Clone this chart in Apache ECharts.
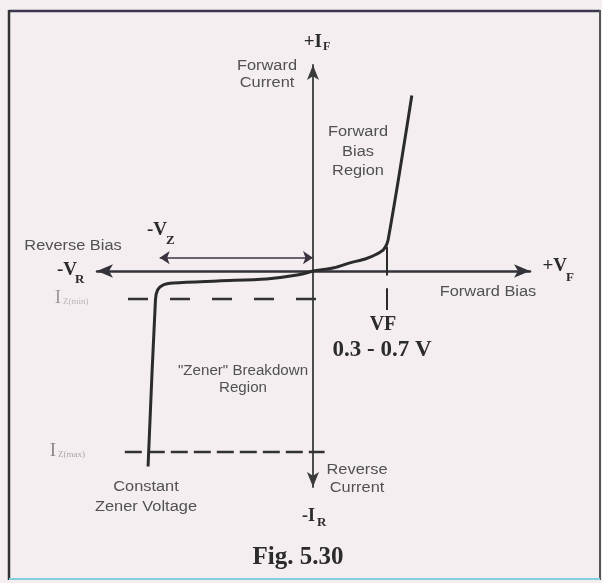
<!DOCTYPE html>
<html>
<head>
<meta charset="utf-8">
<script src="https://cdn.jsdelivr.net/npm/echarts@6/dist/echarts.min.js"></script>
<style>
  html, body { margin: 0; padding: 0; background: #f4eef1; }
  #chart { width: 602px; height: 583px; }
</style>
</head>
<body>
<div id="chart"></div>
<script>
// Zener diode I-V characteristic (voltage in V, current in mA)

// forward branch: conduction starts near the knee voltage
const forwardV = [0, 0.2, 0.35, 0.5, 0.6, 0.67, 0.71, 0.935];
const forwardI = [0, 0.35, 0.9, 1.35, 1.85, 2.4, 3.4, 19.4];

// reverse branch: small leakage, then breakdown at -Vz
const reverseV = [0, -0.15, -0.44, -0.9, -1.32, -1.42, -1.47, -1.49, -1.56];
const reverseI = [0, -0.45, -0.88, -1.1, -1.33, -1.55, -2.1, -3.2, -21.6];

// reference levels
const izMin = -3.1;          // I_Z(min)
const izMax = -20;           // I_Z(max)
const izMinSpan = [-1.75, 0.13];
const izMaxSpan = [-1.78, 0.11];
const vzSpan = [-1.45, 0];   // -Vz dimension arrow
const vzArrowLevel = 1.47;
const vf = 0.7;              // forward knee voltage
const vfKneeI = 2.65;
const vfTick = [-1.9, -4.3];

const axisRangeV = [-2.043, 2.053];
const axisRangeI = [-23.87, 22.76];

const ink = '#2b2b2b';
const sans = '"Liberation Sans", Arial, sans-serif';
const serif = '"Liberation Serif", "Times New Roman", serif';

const pairs = (xs, ys) => xs.map((x, i) => [x, ys[i]]);

const chart = echarts.init(document.getElementById('chart'), null, { renderer: 'canvas' });

function label(text, x, y, opts) {
  opts = opts || {};
  return {
    type: 'text',
    x: x, y: y,
    scaleX: opts.scaleX || 1,
    z: 10,
    style: {
      text: text,
      font: opts.font,
      fill: opts.fill || ink,
      align: opts.align || 'center',
      verticalAlign: 'middle',
      lineHeight: opts.lineHeight
    }
  };
}

const sansFont = '14px ' + sans;
const sansFill = '#515151';
const sx = 1.17;

const graphics = [
  // page frame
  { type: 'line', shape: { x1: 9, y1: 11, x2: 600, y2: 11 }, style: { stroke: '#3b3550', lineWidth: 2.5 } },
  { type: 'line', shape: { x1: 9, y1: 10, x2: 9, y2: 580 }, style: { stroke: '#333', lineWidth: 2.5 } },
  { type: 'line', shape: { x1: 600, y1: 10, x2: 600, y2: 580 }, style: { stroke: '#555', lineWidth: 2 } },
  { type: 'line', shape: { x1: 9, y1: 579, x2: 600, y2: 579 }, style: { stroke: '#7fcfdc', lineWidth: 2 } },

  // axis names
  label('+I', 322, 42, { font: 'bold 19px ' + serif, align: 'right' }),
  label('F', 323, 47, { font: 'bold 12px ' + serif, align: 'left' }),
  label('-V', 77, 270, { font: 'bold 19px ' + serif, align: 'right' }),
  label('R', 75, 280, { font: 'bold 13px ' + serif, align: 'left' }),
  label('+V', 567, 266, { font: 'bold 19px ' + serif, align: 'right' }),
  label('F', 566, 278, { font: 'bold 13px ' + serif, align: 'left' }),
  label('-I', 315, 516, { font: 'bold 18px ' + serif, align: 'right' }),
  label('R', 317, 523, { font: 'bold 13px ' + serif, align: 'left' }),
  label('-V', 167, 230, { font: 'bold 19px ' + serif, align: 'right' }),
  label('Z', 166, 241, { font: 'bold 13px ' + serif, align: 'left' }),

  // current level labels
  label('I', 58, 298, { font: '19px ' + serif, fill: '#9a9a9a', align: 'center' }),
  label('Z(min)', 63, 302, { font: '9px ' + serif, fill: '#b9b4b8', align: 'left' }),
  label('I', 53, 451, { font: '19px ' + serif, fill: '#8a8a8a', align: 'center' }),
  label('Z(max)', 58, 455, { font: '9px ' + serif, fill: '#a9a4a8', align: 'left' }),

  // region notes
  label('Forward\nCurrent', 267, 75, { font: sansFont, fill: sansFill, scaleX: sx, lineHeight: 17 }),
  label('Forward\nBias\nRegion', 358, 152, { font: sansFont, fill: sansFill, scaleX: sx, lineHeight: 19.5 }),
  label('Reverse Bias', 73, 246, { font: sansFont, fill: sansFill, scaleX: sx }),
  label('Forward Bias', 488, 292, { font: sansFont, fill: sansFill, scaleX: sx }),
  label('"Zener" Breakdown\nRegion', 243, 380, { font: sansFont, fill: sansFill, scaleX: 1.08, lineHeight: 17 }),
  label('Constant\nZener Voltage', 146, 497, { font: sansFont, fill: sansFill, scaleX: sx, lineHeight: 20 }),
  label('Reverse\nCurrent', 357, 479, { font: sansFont, fill: sansFill, scaleX: sx, lineHeight: 18 }),

  // knee voltage notes
  label('VF', 383, 325, { font: 'bold 20px ' + serif }),
  label('0.3 - 0.7 V', 382, 350, { font: 'bold 23px ' + serif }),

  // caption
  label('Fig. 5.30', 298, 558, { font: 'bold 25px ' + serif })
];

const option = {
  backgroundColor: '#f4eef1',
  animation: false,
  grid: { left: 97, right: 72, top: 65, bottom: 96 },
  xAxis: {
    type: 'value',
    min: axisRangeV[0], max: axisRangeV[1],
    axisLine: {
      onZero: true,
      symbol: ['arrow', 'arrow'],
      symbolSize: [10, 16],
      lineStyle: { color: '#33313a', width: 2.5 }
    },
    axisTick: { show: false }, axisLabel: { show: false }, splitLine: { show: false }
  },
  yAxis: {
    type: 'value',
    min: axisRangeI[0], max: axisRangeI[1],
    axisLine: {
      onZero: true,
      symbol: ['arrow', 'arrow'],
      symbolSize: [9, 15],
      lineStyle: { color: '#3a3a3a', width: 1.8 }
    },
    axisTick: { show: false }, axisLabel: { show: false }, splitLine: { show: false }
  },
  series: [
    {
      name: 'forward', type: 'line', smooth: 0.3, showSymbol: false, z: 5,
      data: pairs(forwardV, forwardI),
      lineStyle: { color: ink, width: 3 }
    },
    {
      name: 'reverse', type: 'line', smooth: 0.3, showSymbol: false, z: 5,
      data: pairs(reverseV, reverseI),
      lineStyle: { color: ink, width: 3 }
    },
    {
      name: 'Iz(min)', type: 'line', showSymbol: false,
      data: [[izMinSpan[0], izMin], [izMinSpan[1], izMin]],
      lineStyle: { color: '#333', width: 2.5, type: [20, 22] }
    },
    {
      name: 'Iz(max)', type: 'line', showSymbol: false,
      data: [[izMaxSpan[0], izMax], [izMaxSpan[1], izMax]],
      lineStyle: { color: '#333', width: 2.5, type: [17, 6] }
    },
    {
      name: 'VF marker', type: 'lines', coordinateSystem: 'cartesian2d',
      lineStyle: { color: ink, width: 2, opacity: 1 },
      data: [
        { coords: [[vf, vfKneeI], [vf, -0.5]] },
        { coords: [[vf, vfTick[0]], [vf, vfTick[1]]] }
      ]
    },
    {
      name: 'Vz', type: 'lines', coordinateSystem: 'cartesian2d',
      symbol: ['arrow', 'arrow'], symbolSize: 10,
      lineStyle: { color: '#3a3340', width: 1.6, opacity: 1 },
      data: [{ coords: [[vzSpan[0], vzArrowLevel], [vzSpan[1], vzArrowLevel]] }]
    }
  ],
  graphic: graphics
};

chart.setOption(option);
</script>
</body>
</html>
